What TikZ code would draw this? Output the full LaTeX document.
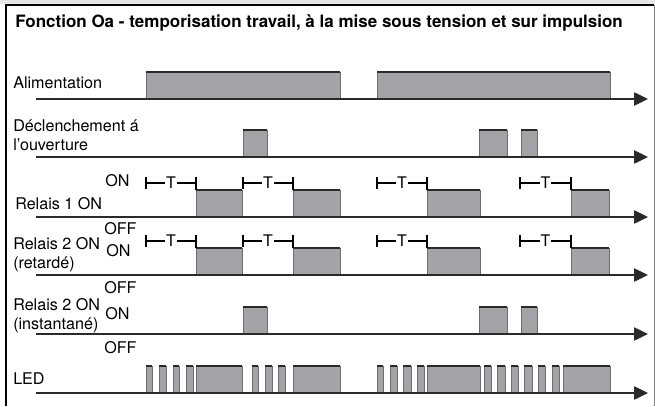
\documentclass[tikz,border=0pt]{standalone}
\usepackage{fontspec}
\setmainfont{TeX Gyre Heros}
\usetikzlibrary{arrows.meta}
\definecolor{pfill}{HTML}{A2A2A7}
\definecolor{pedge}{HTML}{6E6E72}
\definecolor{axisc}{HTML}{2A2A2A}
\definecolor{bandc}{HTML}{E6E6E6}
\tikzset{
  lbl/.style={anchor=base west, inner sep=0pt, font=\fontsize{12.1}{14}\selectfont, text=black},
  ttl/.style={anchor=base west, inner sep=0pt, font=\bfseries\fontsize{12.75}{15}\selectfont},
  tlet/.style={inner sep=0.5pt, font=\fontsize{12}{14}\selectfont},
  axisline/.style={draw=axisc, line width=1pt, -{Triangle[length=10.5pt,width=10pt]}},
  pfillst/.style={fill=pfill},
  pside/.style={draw=pedge, line width=0.6pt},
  ptop/.style={draw=axisc, line width=1.2pt},
  tbar/.style={draw=black, line width=1.7pt},
  tline/.style={draw=black, line width=0.8pt},
}
\newcommand{\mypulse}[4]{%
  \fill[pfillst] (#1,#3) rectangle (#2,#4);
  \draw[pside] (#1,#3) -- (#1,#4) (#2,#4) -- (#2,#3);
  \draw[ptop] (#1,#4) -- (#2,#4);}
% T marker: x1, x2, y, ytop-of-pulse, node name
\newcommand{\mytmark}[5]{%
  \node[tlet] (#5) at ({(#1+#2)/2},#3) {T};
  \draw[tbar] (#1,#3-6) -- (#1,#3+6);
  \draw[tline] (#1,#3) -- (#5.west);
  \draw[tline] (#5.east) -- (#2,#3);
  \draw[tbar] (#2,#3-6) -- (#2,#4);}
\begin{document}
\begin{tikzpicture}[x=0.75pt,y=-0.75pt]
\useasboundingbox (0,0) rectangle (655,406);
% frame
\fill[bandc] (0,0) rectangle (655,4);
\draw[black, line width=1.4pt] (6,406) -- (6,5) -- (654,5);
\draw[gray, line width=0.6pt] (654,5) -- (654,406);
% title
\node[ttl] (title) at (15,28) {Fonction Oa - temporisation travail, à la mise sous tension et sur impulsion};
% labels
\node[lbl] (lalim) at (13,89) {Alimentation};
\node[lbl] (ldecl1) at (13,132) {Déclenchement á};
\node[lbl] (ldecl2) at (13,150) {l’ouverture};
\node[lbl] (lr1) at (15,209) {Relais 1 ON};
\node[lbl] (on1) at (105,186) {ON};
\node[lbl] (off1) at (104,234) {OFF};
\node[lbl] (lr2a) at (13,249) {Relais 2 ON};
\node[lbl] (lr2b) at (13,268) {(retardé)};
\node[lbl] (on2) at (106,256) {ON};
\node[lbl] (off2) at (104,293) {OFF};
\node[lbl] (lr3a) at (13,310) {Relais 2 ON};
\node[lbl] (lr3b) at (13,329) {(instantané)};
\node[lbl] (on3) at (105,319) {ON};
\node[lbl] (off3) at (104,353) {OFF};
\node[lbl] (lled) at (13,384) {LED};
% Alimentation
\mypulse{146}{340}{99}{72}
\mypulse{377}{610}{99}{72}
\coordinate (a0) at (36,99); \coordinate (a1) at (648,99);
\draw[axisline] (a0) -- (a1);
% Declenchement
\mypulse{243}{267}{157}{130}
\mypulse{479}{507}{157}{130}
\mypulse{521}{537}{157}{130}
\coordinate (b0) at (36,157); \coordinate (b1) at (648,157);
\draw[axisline] (b0) -- (b1);
% Relais 1
\mypulse{196}{242}{217}{190}
\mypulse{293}{340}{217}{190}
\mypulse{427}{480}{217}{190}
\mypulse{571}{609}{217}{190}
\mytmark{146}{196}{183}{190}{ta}
\mytmark{243}{293}{183}{190}{tb}
\mytmark{377}{427}{183}{190}{tc}
\mytmark{520}{571}{183}{190}{td}
\coordinate (c0) at (36,217); \coordinate (c1) at (648,217);
\draw[axisline] (c0) -- (c1);
% Relais 2 retarde
\mypulse{196}{242}{275}{248}
\mypulse{293}{340}{275}{248}
\mypulse{427}{480}{275}{248}
\mypulse{571}{609}{275}{248}
\mytmark{146}{196}{241}{248}{te}
\mytmark{243}{293}{241}{248}{tf}
\mytmark{377}{427}{241}{248}{tg}
\mytmark{520}{571}{241}{248}{th}
\coordinate (d0) at (36,275); \coordinate (d1) at (648,275);
\draw[axisline] (d0) -- (d1);
% Relais 2 instantane
\mypulse{243}{267}{334}{307}
\mypulse{479}{507}{334}{307}
\mypulse{521}{537}{334}{307}
\coordinate (e0) at (36,334); \coordinate (e1) at (648,334);
\draw[axisline] (e0) -- (e1);
% LED
\foreach \a/\b in {146/152,159/166,173/179,186/193,196/242,252/258,265/272,278/285,293/340,
  377/383,390/397,403/411,417/424,427/480,484/491,497/505,511/518,524/532,538/545,552/559,563/610}{
  \mypulse{\a}{\b}{393}{366}
}
\coordinate (f0) at (36,393); \coordinate (f1) at (648,393);
\draw[axisline] (f0) -- (f1);
\end{tikzpicture}
\end{document}
